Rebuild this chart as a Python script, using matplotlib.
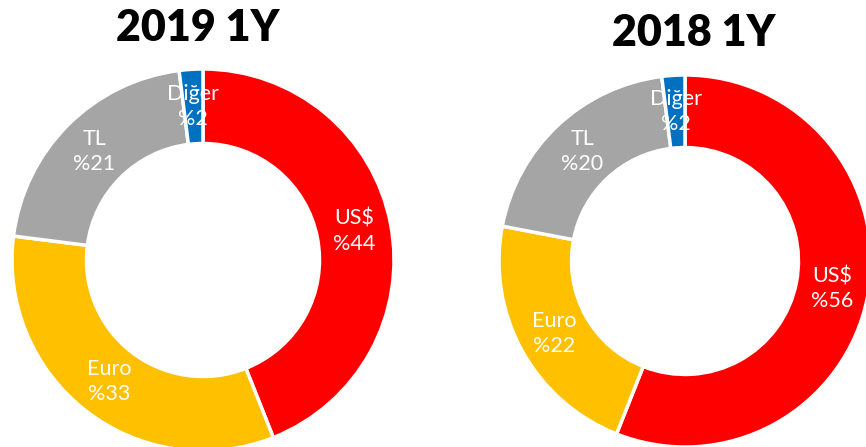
import matplotlib
matplotlib.use('Agg')
import numpy as np
import matplotlib.pyplot as plt

plt.rcParams['font.family'] = ['Lato', 'DejaVu Sans']

# data
categories = ['US$', 'Euro', 'TL', 'Diğer']
vals_2019 = [44, 33, 21, 2]
vals_2018 = [56, 22, 20, 2]
colors = ['#FF0000', '#FFC000', '#A5A5A5', '#0070C0']

W, H = 866, 447
fig = plt.figure(figsize=(W / 100, H / 100), dpi=100)


def donut(cx, cy, r, vals, title, tx, ty):
    # cx, cy, r in pixels (y from top)
    ax = fig.add_axes([(cx - r) / W, (H - cy - r) / H, 2 * r / W, 2 * r / H])
    wedges, _ = ax.pie(vals, colors=colors, startangle=90, counterclock=False,
                       radius=1, wedgeprops=dict(width=0.39, edgecolor='white', linewidth=2.5))
    for w in wedges:
        w.set_clip_on(False)
    ax.set_xlim(-1, 1)
    ax.set_ylim(-1, 1)
    ax.set_aspect('auto')
    ax.axis('off')
    # labels in the middle of the ring
    total = float(sum(vals))
    start = 90.0
    for name, v in zip(categories, vals):
        mid = start - v / total * 360 / 2
        start -= v / total * 360
        rr = 0.805
        ax.text(rr * np.cos(np.radians(mid)), rr * np.sin(np.radians(mid)),
                '%s\n%%%d' % (name, v), color='white', fontsize=15.5,
                ha='center', va='center', linespacing=1.3)
    fig.text(tx / W, 1 - ty / H, title, fontsize=31, fontweight='heavy',
             ha='center', va='center')


donut(203, 260, 191, vals_2019, '2019 1Y', 198, 28)
donut(685, 261, 186, vals_2018, '2018 1Y', 694, 33)

fig.savefig('out.png', dpi=100)
